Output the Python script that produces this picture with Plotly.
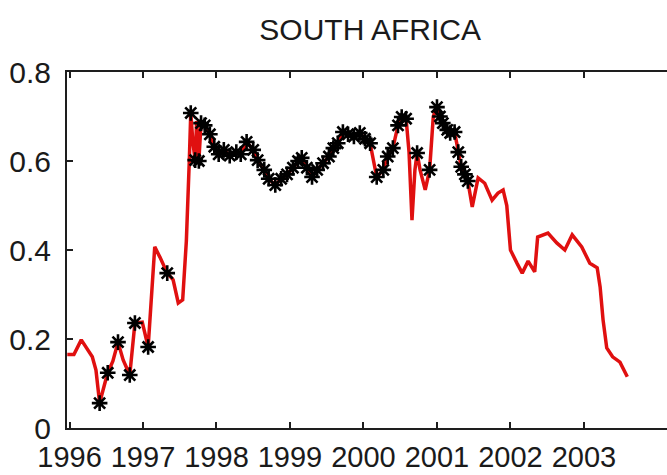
import plotly.graph_objects as go

# Time (decimal years) and index values for the South Africa series
years = [
    1995.97, 1996.06, 1996.16, 1996.25, 1996.31, 1996.36, 1996.41, 1996.48,
    1996.52, 1996.59, 1996.66, 1996.73, 1996.82, 1996.89, 1996.99, 1997.07,
    1997.12, 1997.16, 1997.23, 1997.33, 1997.41, 1997.48, 1997.54, 1997.59,
    1997.63, 1997.65, 1997.68, 1997.71, 1997.73, 1997.76, 1997.79, 1997.84,
    1997.91, 1997.97, 1998.03, 1998.10, 1998.18, 1998.27, 1998.33, 1998.41,
    1998.50, 1998.56, 1998.65, 1998.71, 1998.80, 1998.88, 1998.96, 1999.04,
    1999.11, 1999.16, 1999.23, 1999.30, 1999.37, 1999.45, 1999.53, 1999.59,
    1999.65, 1999.72, 1999.79, 1999.87, 1999.95, 2000.02, 2000.09, 2000.14,
    2000.18, 2000.27, 2000.33, 2000.40, 2000.47, 2000.52, 2000.58, 2000.62,
    2000.66, 2000.70, 2000.73, 2000.77, 2000.84, 2000.90, 2000.95, 2001.00,
    2001.04, 2001.08, 2001.14, 2001.18, 2001.24, 2001.29, 2001.33, 2001.38,
    2001.42, 2001.48, 2001.56, 2001.65, 2001.75, 2001.83, 2001.90, 2001.95,
    2002.00, 2002.09, 2002.16, 2002.24, 2002.29, 2002.33, 2002.37, 2002.51,
    2002.63, 2002.74, 2002.84, 2002.97, 2003.08, 2003.18, 2003.22, 2003.26,
    2003.31, 2003.39, 2003.49, 2003.59,
]

values = [
    0.165, 0.165, 0.198, 0.175, 0.160, 0.130, 0.056, 0.100,
    0.124, 0.150, 0.193, 0.153, 0.119, 0.236, 0.238, 0.182,
    0.300, 0.407, 0.384, 0.348, 0.333, 0.281, 0.288, 0.420,
    0.600, 0.708, 0.640, 0.602, 0.690, 0.600, 0.685, 0.680,
    0.660, 0.632, 0.615, 0.625, 0.612, 0.620, 0.615, 0.643,
    0.625, 0.602, 0.580, 0.560, 0.546, 0.560, 0.570, 0.585,
    0.600, 0.607, 0.585, 0.564, 0.580, 0.595, 0.610, 0.629,
    0.640, 0.665, 0.660, 0.655, 0.663, 0.650, 0.640, 0.600,
    0.564, 0.580, 0.610, 0.629, 0.680, 0.699, 0.695, 0.620,
    0.467, 0.580, 0.618, 0.580, 0.535, 0.580, 0.700, 0.721,
    0.700, 0.685, 0.670, 0.663, 0.665, 0.620, 0.587, 0.570,
    0.555, 0.497, 0.562, 0.550, 0.512, 0.528, 0.535, 0.500,
    0.400, 0.370, 0.348, 0.375, 0.360, 0.351, 0.429, 0.438,
    0.416, 0.400, 0.434, 0.407, 0.370, 0.360, 0.317, 0.243,
    0.180, 0.160, 0.148, 0.115,
]

# 1 = observation flagged with an asterisk marker
flagged = [
    0, 0, 0, 0, 0, 0, 1, 0,
    1, 0, 1, 0, 1, 1, 0, 1,
    0, 0, 0, 1, 0, 0, 0, 0,
    0, 1, 0, 1, 0, 1, 1, 1,
    1, 1, 1, 1, 1, 1, 1, 1,
    1, 1, 1, 1, 1, 1, 1, 1,
    1, 1, 1, 1, 1, 1, 1, 1,
    1, 1, 1, 1, 1, 1, 1, 0,
    1, 1, 1, 1, 1, 1, 1, 0,
    0, 0, 1, 0, 0, 1, 0, 1,
    1, 1, 1, 1, 1, 1, 1, 1,
    1, 0, 0, 0, 0, 0, 0, 0,
    0, 0, 0, 0, 0, 0, 0, 0,
    0, 0, 0, 0, 0, 0, 0, 0,
    0, 0, 0, 0,
]

year_ticks = [1996, 1997, 1998, 1999, 2000, 2001, 2002, 2003]
value_ticks = [0, 0.2, 0.4, 0.6, 0.8]
title_text = "SOUTH AFRICA"

mark_x = [x for x, f in zip(years, flagged) if f]
mark_y = [y for y, f in zip(values, flagged) if f]

font_family = "Liberation Sans, Arial, sans-serif"
axis_color = "#1e1e1e"

fig = go.Figure()
fig.add_trace(go.Scatter(
    x=years, y=values, mode="lines",
    line=dict(color="#e01010", width=3.5),
    hoverinfo="skip", showlegend=False,
))
fig.add_trace(go.Scatter(
    x=mark_x, y=mark_y, mode="markers",
    marker=dict(symbol="asterisk-open", size=13, color="black",
                line=dict(color="#111111", width=2.6)),
    showlegend=False,
))

fig.update_layout(
    width=667, height=475,
    margin=dict(l=67, r=0, t=72, b=47),
    paper_bgcolor="white", plot_bgcolor="white",
    font=dict(family=font_family, color="#1a1a1a", size=30),
    title=dict(text=title_text, x=0.555, xanchor="center",
               y=0.937, yanchor="middle",
               font=dict(family=font_family, size=30, color="#1a1a1a")),
)
fig.update_xaxes(
    range=[1995.966, 2004.13],
    tickvals=year_ticks, ticktext=[str(y) for y in year_ticks],
    ticks="inside", ticklen=6, tickwidth=1.5, tickcolor=axis_color,
    showline=True, linecolor=axis_color, linewidth=2, mirror="ticks",
    showgrid=False, zeroline=False, automargin=False, tickangle=0,
    tickfont=dict(size=29), ticklabelstandoff=2,
)
fig.update_yaxes(
    range=[0, 0.8],
    tickvals=value_ticks, ticktext=["0", "0.2", "0.4", "0.6", "0.8"],
    ticks="inside", ticklen=6, tickwidth=1.5, tickcolor=axis_color,
    showline=True, linecolor=axis_color, linewidth=2,
    showgrid=False, zeroline=False, automargin=False,
    tickfont=dict(size=30), ticklabelstandoff=8,
)

fig.write_html("out.html")
